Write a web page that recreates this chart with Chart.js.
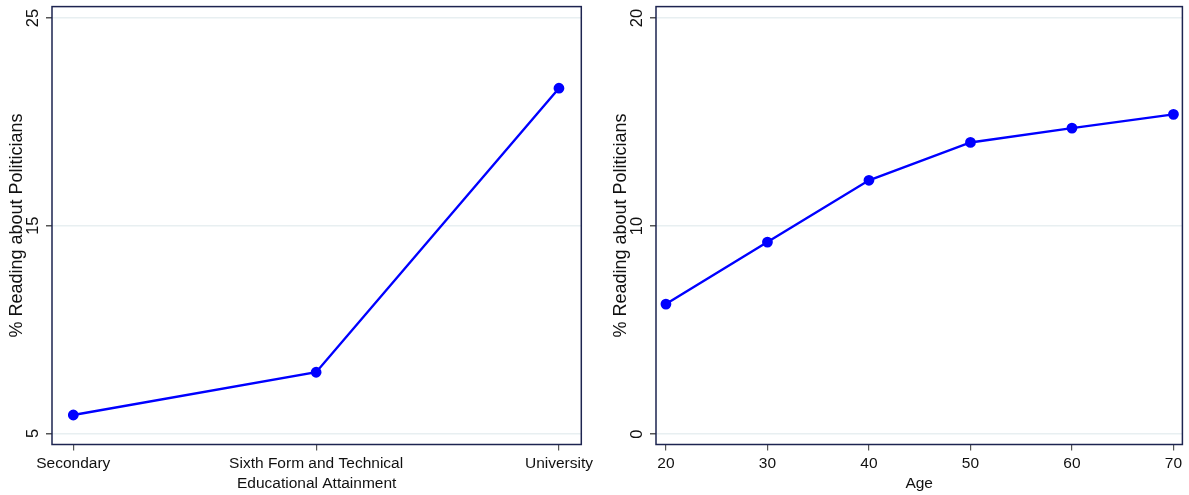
<!DOCTYPE html>
<html>
<head>
<meta charset="utf-8">
<script src="https://cdn.jsdelivr.net/npm/chart.js@4.4.1/dist/chart.umd.min.js"></script>
<style>
  body { margin: 0; background: #fff; width: 1189px; height: 495px; overflow: hidden; position: relative; }
  canvas { position: absolute; top: 0; }
  #eduChart { left: 0; }
  #ageChart { left: 600px; }
</style>
</head>
<body>
<canvas id="eduChart" width="600" height="495"></canvas>
<canvas id="ageChart" width="589" height="495"></canvas>
<script>
// Данные: левая панель (образование)
const eduLabels = ['Secondary', 'Sixth Form and Technical', 'University'];
const eduValues = [5.88, 7.94, 21.62];
const eduTicksY = [5, 15, 25];

// Данные: правая панель (возраст)
const ageValues = [20, 30, 40, 50, 60, 70];
const agePercent = [6.25, 9.23, 12.2, 14.02, 14.71, 15.37];
const ageTicksX = [20, 30, 40, 50, 60, 70];
const ageTicksY = [0, 10, 20];

const yTitle = '% Reading about Politicians';
const FONT = '"Liberation Sans", Arial, sans-serif';

// Рамка, повёрнутые подписи оси Y и заголовки осей
const framePlugin = {
  id: 'frame',
  afterDraw(chart, args, opts) {
    const ctx = chart.ctx;
    const a = chart.chartArea;
    const ys = chart.scales.y;
    ctx.save();
    ctx.fillStyle = '#111';
    ctx.textAlign = 'center';
    ctx.textBaseline = 'middle';

    // подписи делений Y
    ctx.font = '16.5px ' + FONT;
    opts.yTicks.forEach((v) => {
      const py = ys.getPixelForValue(v);
      ctx.save();
      ctx.translate(opts.tickX, py);
      ctx.rotate(-Math.PI / 2);
      ctx.fillText(String(v), 0, 0);
      ctx.restore();
    });

    // заголовок оси Y
    ctx.font = '18px ' + FONT;
    ctx.save();
    ctx.translate(opts.titleX, (a.top + a.bottom) / 2);
    ctx.rotate(-Math.PI / 2);
    ctx.fillText(yTitle, 0, 0);
    ctx.restore();

    // заголовок оси X
    ctx.font = '15.5px ' + FONT;
    ctx.fillText(opts.xTitle, (a.left + a.right) / 2, 484);

    // рамка
    ctx.strokeStyle = '#1d2450';
    ctx.lineWidth = 1.5;
    ctx.strokeRect(a.left, a.top, a.right - a.left, a.bottom - a.top);
    ctx.restore();
  },
};

function makeChart(canvasId, points, xMin, xMax, xTicks, xLabel, yMin, yMax, yTicks, yWidth, padRight, frameOpts) {
  const ctx = document.getElementById(canvasId).getContext('2d');
  return new Chart(ctx, {
    type: 'line',
    data: {
      datasets: [
        {
          data: points,
          borderColor: '#0000ff',
          backgroundColor: '#0000ff',
          borderWidth: 2.4,
          pointRadius: 4.2,
          pointHoverRadius: 4.2,
          tension: 0,
          fill: false,
        },
      ],
    },
    options: {
      responsive: false,
      animation: false,
      events: [],
      layout: { padding: { top: 6.5, right: padRight, bottom: 0, left: 0 } },
      plugins: {
        legend: { display: false },
        tooltip: { enabled: false },
        frame: frameOpts,
      },
      scales: {
        x: {
          type: 'linear',
          min: xMin,
          max: xMax,
          afterBuildTicks: (s) => { s.ticks = xTicks.map((v) => ({ value: v })); },
          afterFit: (s) => { s.height = 50.5; s.paddingLeft = 0; s.paddingRight = 0; },
          border: { display: false },
          grid: { drawOnChartArea: false, tickLength: 6, tickColor: '#555', lineWidth: 1.2 },
          ticks: {
            autoSkip: false,
            maxRotation: 0,
            padding: 4,
            color: '#111',
            font: { family: FONT, size: 15.5 },
            callback: xLabel,
          },
        },
        y: {
          type: 'linear',
          min: yMin,
          max: yMax,
          afterBuildTicks: (s) => { s.ticks = yTicks.map((v) => ({ value: v })); },
          afterFit: (s) => { s.width = yWidth; s.paddingTop = 0; s.paddingBottom = 0; },
          border: { display: false },
          grid: { color: '#e8eff1', lineWidth: 1.5, tickLength: 6, tickColor: '#555' },
          ticks: { display: false },
        },
      },
    },
    plugins: [framePlugin],
  });
}

// Левая панель
makeChart(
  'eduChart',
  eduValues.map((v, i) => ({ x: i, y: v })),
  -0.0877, 2.092, eduLabels.map((_, i) => i), (v) => eduLabels[v],
  4.46, 25.55, eduTicksY, 52, 18.7,
  { yTicks: eduTicksY, tickX: 33, titleX: 17, xTitle: 'Educational Attainment' }
);

// Правая панель
makeChart(
  'ageChart',
  ageValues.map((v, i) => ({ x: v, y: agePercent[i] })),
  19.02, 70.88, ageTicksX, (v) => String(v),
  -0.5, 20.55, ageTicksY, 56, 4,
  { yTicks: ageTicksY, tickX: 37.5, titleX: 21.5, xTitle: 'Age' }
);
</script>
</body>
</html>
